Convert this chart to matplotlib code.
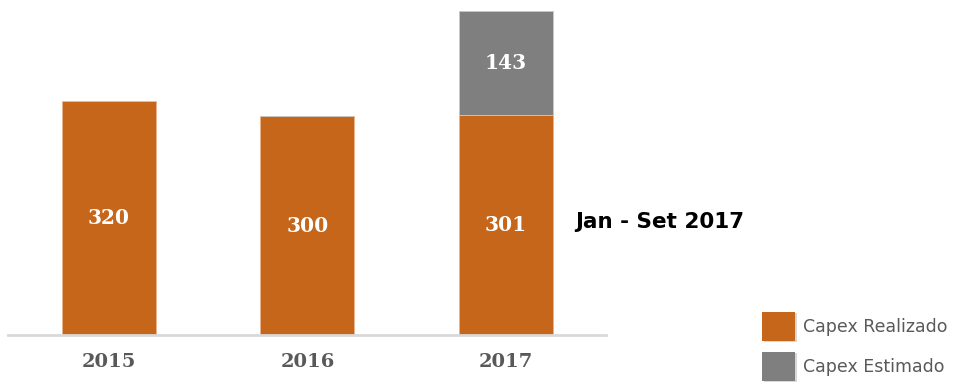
import matplotlib.pyplot as plt
from matplotlib.patches import Rectangle

years = ["2015", "2016", "2017"]
realizado = [320, 300, 301]
estimado = [0, 0, 143]
legend_labels = ["Capex Realizado", "Capex Estimado"]
note_text = "Jan - Set 2017"

ORANGE = "#C5661B"
GRAY = "#7F7F7F"
TEXT_GRAY = "#595959"

W, H = 963, 383


def main() -> None:
    fig = plt.figure(figsize=(W / 100, H / 100), dpi=100)
    ax = fig.add_axes([8 / W, (H - 335) / H, 598 / W, 450 * 0.73 / H])

    x = list(range(len(years)))
    width = 0.474
    ax.bar(x, realizado, width=width, color=ORANGE, edgecolor="#E8B48C", linewidth=0.6)
    ax.bar(x, estimado, width=width, bottom=realizado, color=GRAY,
           edgecolor="#C8C8C8", linewidth=0.6)

    serif = ["DejaVu Serif"]
    for xi, r, e in zip(x, realizado, estimado):
        ax.text(xi, r / 2, str(r), ha="center", va="center", color="white",
                fontsize=14.5, fontweight="bold", family=serif)
        if e:
            ax.text(xi, r + e / 2, str(e), ha="center", va="center", color="white",
                    fontsize=14.5, fontweight="bold", family=serif)

    ax.set_xlim(-0.508, 2.504)
    ax.set_ylim(0, 450)
    ax.set_xticks(x)
    ax.set_xticklabels(years, fontsize=14, fontweight="bold", color=TEXT_GRAY, family=serif)
    ax.tick_params(axis="x", length=0, pad=13)
    ax.set_yticks([])
    for side in ["top", "right", "left"]:
        ax.spines[side].set_visible(False)
    ax.spines["bottom"].set_color("#D9D9D9")
    ax.spines["bottom"].set_linewidth(2)

    fig.text(575 / W, 1 - 222 / H, note_text, ha="left", va="center",
             fontsize=15.5, fontweight="bold", color="black", family=["DejaVu Sans"])

    # legend drawn by hand at the bottom right
    for (y_top, color, label) in [(312, ORANGE, legend_labels[0]), (352, GRAY, legend_labels[1])]:
        fig.patches.append(Rectangle((764 / W, 1 - (y_top + 30) / H), 33 / W, 29 / H,
                                     transform=fig.transFigure, facecolor="#BFBFBF",
                                     edgecolor="none", alpha=0.6))
        fig.patches.append(Rectangle((762 / W, 1 - (y_top + 29) / H), 33 / W, 29 / H,
                                     transform=fig.transFigure, facecolor=color,
                                     edgecolor="none"))
        fig.text(803 / W, 1 - (y_top + 15) / H, label, ha="left", va="center",
                 fontsize=12.5, color=TEXT_GRAY, family=["DejaVu Sans"])

    fig.savefig("out.png", dpi=100)
    plt.close(fig)


if __name__ == "__main__":
    main()
